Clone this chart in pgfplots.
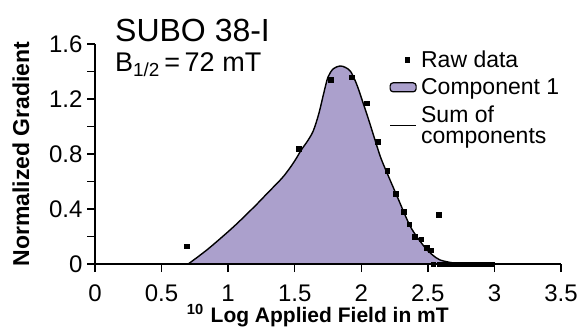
\documentclass[border=0pt]{standalone}
\usepackage{pgfplots}
\pgfplotsset{compat=1.18}
\usepackage{fontspec}
\setmainfont{Liberation Sans}
\definecolor{comp}{RGB}{171,160,204}
\pgfplotsset{
  rawimg/.style={legend image code/.code={\path[draw=none,fill=none] (0bp,0bp) -- (29bp,0bp); \draw[##1] plot coordinates {(17bp,0bp)};}},
  compimg/.style={legend image code/.code={\path[draw=none,fill=none] (0bp,0bp) -- (29bp,0bp); \draw[##1, rounded corners=3bp] (0bp,-4.5bp) rectangle (26bp,4.5bp);}},
  sumimg/.style={legend image code/.code={\path[draw=none,fill=none] (0bp,0bp) -- (29bp,0bp); \draw[##1] (0bp,0bp) -- (26bp,0bp);}},
}
\begin{document}
\begin{tikzpicture}[x=1bp,y=1bp]
\path[use as bounding box] (0,0) rectangle (588,327);
\begin{axis}[
  at={(95bp,63bp)}, anchor=south west,
  scale only axis, width=466bp, height=220bp,
  xmin=0, xmax=3.5, ymin=0, ymax=1.6,
  axis x line=bottom, axis y line=left,
  axis line style={-, line width=1.6bp},
  axis on top,
  tick align=outside,
  major tick length=8bp, minor tick length=8bp,
  every tick/.style={line width=1.4bp, black},
  xtick={0,0.5,...,3.5},
  ytick={0,0.4,0.8,1.2,1.6},
  minor ytick={0.2,0.6,1.0,1.4},
  /pgf/number format/assume math mode=true,
  ticklabel style={font=\fontsize{24bp}{28bp}\selectfont},
  xticklabel style={yshift=-9bp},
  yticklabel style={xshift=-1bp},
  xlabel={\textsuperscript{10}\hspace{7bp}Log Applied Field in mT},
  xlabel style={font=\fontsize{21bp}{24bp}\selectfont\bfseries, at={(axis description cs:0.478,0)}, anchor=base, yshift=-58bp},
  ylabel={Normalized Gradient},
  ylabel style={font=\fontsize{23bp}{24bp}\selectfont\bfseries, at={(axis description cs:-0.159,0.5)}, anchor=center},
  legend style={at={(axis description cs:0.625,0.99)}, anchor=north west, draw=none, fill=none,
    font=\fontsize{23bp}{21bp}\selectfont, nodes={align=left}, row sep=6bp},
  legend cell align=left,
]
\addlegendimage{only marks, mark=square*, mark size=2.3bp, black, rawimg}
\addlegendentry{Raw data}
\addlegendimage{fill=comp, draw=black, line width=1.2bp, compimg}
\addlegendentry{Component 1}
\addlegendimage{black, line width=1.4bp, sumimg}
\addlegendentry{Sum of\\components}

\addplot[fill=comp, draw=none, smooth, forget plot] coordinates {
(0.70,0) (0.85,0.11) (1.04,0.27) (1.20,0.42) (1.29,0.51) (1.40,0.62) (1.45,0.68) (1.50,0.75) (1.55,0.83) (1.60,0.90) (1.64,0.97) (1.68,1.09) (1.72,1.25) (1.75,1.36) (1.79,1.42) (1.84,1.44) (1.88,1.43) (1.92,1.40) (1.96,1.32) (1.99,1.24) (2.055,1.05) (2.14,0.79) (2.19,0.67) (2.27,0.49) (2.37,0.27) (2.47,0.13) (2.53,0.07) (2.59,0.03) (2.69,0.008) (2.80,0) (3.0,0)
} \closedcycle;
\addplot[black, line width=1.4bp, smooth, forget plot] coordinates {
(0.70,0) (0.85,0.11) (1.04,0.27) (1.20,0.42) (1.29,0.51) (1.40,0.62) (1.45,0.68) (1.50,0.75) (1.55,0.83) (1.60,0.90) (1.64,0.97) (1.68,1.09) (1.72,1.25) (1.75,1.36) (1.79,1.42) (1.84,1.44) (1.88,1.43) (1.92,1.40) (1.96,1.32) (1.99,1.24) (2.055,1.05) (2.14,0.79) (2.19,0.67) (2.27,0.49) (2.37,0.27) (2.47,0.13) (2.53,0.07) (2.59,0.03) (2.69,0.008) (2.80,0) (3.0,0)
};
\addplot[only marks, mark=square*, mark size=2.3bp, black, forget plot] coordinates {
(0.69,0.13) (1.53,0.84) (1.77,1.34) (1.93,1.36) (2.04,1.17) (2.125,0.89) (2.195,0.68) (2.26,0.51) (2.32,0.38) (2.36,0.29) (2.40,0.20) (2.45,0.18) (2.49,0.12) (2.52,0.10) (2.58,0.36)
(2.54,0.0) (2.59,0) (2.62,0) (2.65,0) (2.68,0) (2.71,0) (2.74,0) (2.77,0) (2.80,0) (2.83,0) (2.86,0) (2.89,0) (2.92,0) (2.95,0) (2.98,0)
};
\end{axis}
\node[anchor=base west, inner sep=0, font=\fontsize{32bp}{36bp}\selectfont] at (115,285.3) {SUBO 38-I};
\node[anchor=base west, inner sep=0, font=\fontsize{27bp}{30bp}\selectfont] at (115,255.3) {B\textsubscript{1/2}\,=\,72 mT};
\end{tikzpicture}
\end{document}
